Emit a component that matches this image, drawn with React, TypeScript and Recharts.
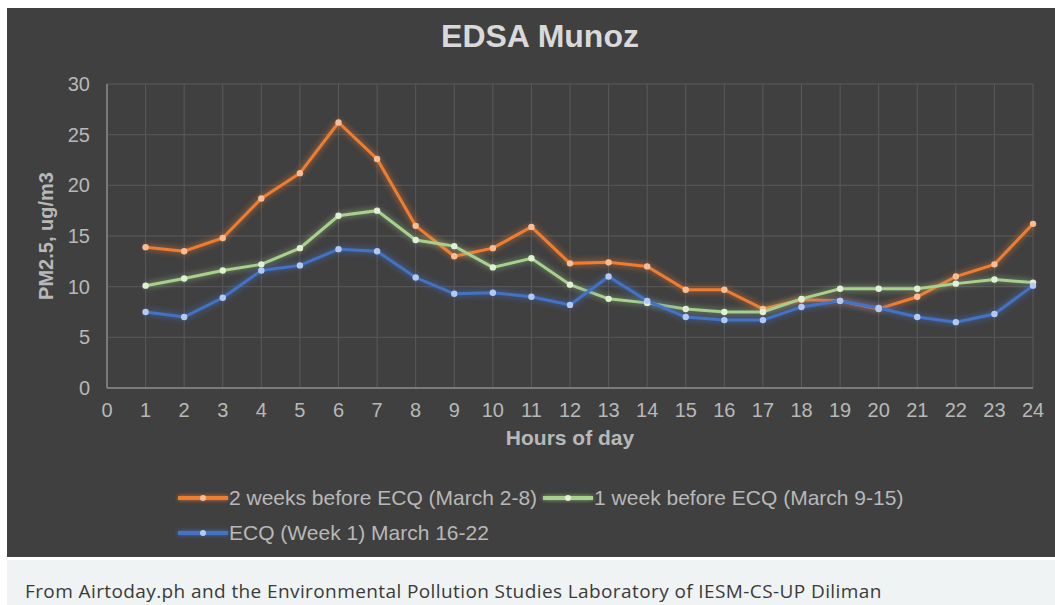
import React from 'react';
import { LineChart, Line, XAxis, YAxis, CartesianGrid, Legend, Label } from 'recharts';

const hours = [1, 2, 3, 4, 5, 6, 7, 8, 9, 10, 11, 12, 13, 14, 15, 16, 17, 18, 19, 20, 21, 22, 23, 24];
const xTicks = [0, 1, 2, 3, 4, 5, 6, 7, 8, 9, 10, 11, 12, 13, 14, 15, 16, 17, 18, 19, 20, 21, 22, 23, 24];
const yTicks = [0, 5, 10, 15, 20, 25, 30];

const twoWeeksBefore = [13.9, 13.5, 14.8, 18.7, 21.2, 26.2, 22.6, 16.0, 13.0, 13.8, 15.9, 12.3, 12.4, 12.0, 9.7, 9.7, 7.8, 8.7, 8.6, 7.8, 9.0, 11.0, 12.2, 16.2];
const oneWeekBefore = [10.1, 10.8, 11.6, 12.2, 13.8, 17.0, 17.5, 14.6, 14.0, 11.9, 12.8, 10.2, 8.8, 8.4, 7.8, 7.5, 7.5, 8.8, 9.8, 9.8, 9.8, 10.3, 10.7, 10.4];
const ecqWeek1 = [7.5, 7.0, 8.9, 11.6, 12.1, 13.7, 13.5, 10.9, 9.3, 9.4, 9.0, 8.2, 11.0, 8.6, 7.0, 6.7, 6.7, 8.0, 8.6, 7.9, 7.0, 6.5, 7.3, 10.1];

const seriesNames = [
  '2 weeks before ECQ (March 2-8)',
  '1 week before ECQ (March 9-15)',
  'ECQ (Week 1) March 16-22',
];

const data = hours.map((h, i) => ({
  hour: h,
  a: twoWeeksBefore[i],
  b: oneWeekBefore[i],
  c: ecqWeek1[i],
}));

const styles = [
  { key: 'a', color: '#ED7D31', dot: '#F7BD95', glow: 'rgba(237,125,49,0.85)', cls: 'glow-a' },
  { key: 'b', color: '#A9D18E', dot: '#E0F0D4', glow: 'rgba(169,209,142,0.75)', cls: 'glow-b' },
  { key: 'c', color: '#4472C4', dot: '#B3C9F2', glow: 'rgba(68,114,196,0.9)', cls: 'glow-c' },
];

const FONT = '"Liberation Sans", Arial, Helvetica, sans-serif';
const TEXT = '#b8b8b8';

const css = `
.glow-a path, .glow-a circle { filter: drop-shadow(0 0 3px rgba(237,125,49,0.85)); }
.glow-b path, .glow-b circle { filter: drop-shadow(0 0 3px rgba(169,209,142,0.7)); }
.glow-c path, .glow-c circle { filter: drop-shadow(0 0 3px rgba(68,114,196,0.95)); }
`;

const renderLegend = (props: any) => {
  const payload = ([...(props.payload || [])] as any[]).sort(
    (p, q) => seriesNames.indexOf(p.value) - seriesNames.indexOf(q.value)
  );
  const rows = [payload.slice(0, 2), payload.slice(2)];
  return (
    <div style={{ fontFamily: FONT, fontSize: 21, color: TEXT }}>
      {rows.map((row, ri) => (
        <div key={ri} style={{ display: 'flex', alignItems: 'center', height: 35 }}>
          {row.map((entry: any, i: number) => {
            const idx = seriesNames.indexOf(entry.value);
            const st = styles[idx >= 0 ? idx : 0];
            return (
              <div key={i} style={{ display: 'flex', alignItems: 'center', marginRight: 5 }}>
                <svg width={52} height={20} style={{ overflow: 'visible' }}>
                  <line x1={1} y1={10} x2={51} y2={10} stroke={st.color} strokeWidth={4}
                    style={{ filter: `drop-shadow(0 0 2px ${st.glow})` }} />
                  <circle cx={26} cy={10} r={3} fill={st.dot} />
                </svg>
                <span style={{ whiteSpace: 'nowrap' }}>{entry.value}</span>
              </div>
            );
          })}
        </div>
      ))}
    </div>
  );
};

export default function App() {
  return (
    <div style={{ position: 'absolute', left: 0, top: 0, width: 1055, height: 605, background: '#ffffff', overflow: 'hidden' }}>
      <style>{css}</style>
      <div style={{ position: 'absolute', left: 7, top: 8, width: 1048, height: 549, background: '#404040' }} />
      <div style={{ position: 'absolute', left: 7, top: 560, width: 1048, height: 45, background: '#eff3f4' }} />
      <div style={{
        position: 'absolute', left: 25, top: 580, fontFamily: '"Open Sans", Roboto, sans-serif', fontSize: 19,
        letterSpacing: 0.4, lineHeight: '22px', color: '#3a3a3a', whiteSpace: 'nowrap',
      }}>
        From Airtoday.ph and the Environmental Pollution Studies Laboratory of IESM-CS-UP Diliman
      </div>
      <div style={{
        position: 'absolute', left: 0, top: 20, width: 1080, textAlign: 'center', fontFamily: FONT,
        fontWeight: 'bold', fontSize: 32, lineHeight: '32px', color: '#d9d9d9',
      }}>
        EDSA Munoz
      </div>
      <div style={{ position: 'absolute', left: 0, top: 0 }}>
        <LineChart width={1055} height={557} data={data} margin={{ top: 84, right: 22, left: 0, bottom: 109 }}>
          <CartesianGrid stroke="#5a5a5a" strokeWidth={1} />
          <XAxis
            dataKey="hour"
            type="number"
            domain={[0, 24]}
            ticks={xTicks}
            interval={0}
            height={60}
            stroke="#8a8a8a"
            strokeWidth={1.5}
            tickLine={false}
            tickSize={8}
            tickMargin={7}
            tick={{ fill: TEXT, fontSize: 20, fontFamily: FONT }}
          >
            <Label value="Hours of day" position="insideBottom" offset={3}
              style={{ fill: TEXT, fontSize: 21, fontWeight: 'bold', fontFamily: FONT }} />
          </XAxis>
          <YAxis
            type="number"
            domain={[0, 30]}
            ticks={yTicks}
            width={107}
            stroke="#8a8a8a"
            strokeWidth={1.5}
            tickLine={false}
            tickSize={8}
            tickMargin={9}
            tick={{ fill: TEXT, fontSize: 20, fontFamily: FONT }}
          >
            <Label value="PM2.5, ug/m3" angle={-90} position="insideLeft" offset={46}
              style={{ fill: TEXT, fontSize: 20, fontWeight: 'bold', fontFamily: FONT, textAnchor: 'middle' }} />
          </YAxis>
          <Legend
            layout="horizontal"
            verticalAlign="middle"
            align="center"
            content={renderLegend}
            wrapperStyle={{ left: 177, top: 480, width: 800, height: 70 }}
          />
          {styles.map((st, i) => (
            <Line
              key={st.key}
              className={st.cls}
              type="linear"
              dataKey={st.key}
              name={seriesNames[i]}
              stroke={st.color}
              strokeWidth={3}
              dot={{ r: 3.2, fill: st.dot, stroke: 'none', strokeWidth: 0 }}
              activeDot={false}
              isAnimationActive={false}
            />
          ))}
        </LineChart>
      </div>
    </div>
  );
}
